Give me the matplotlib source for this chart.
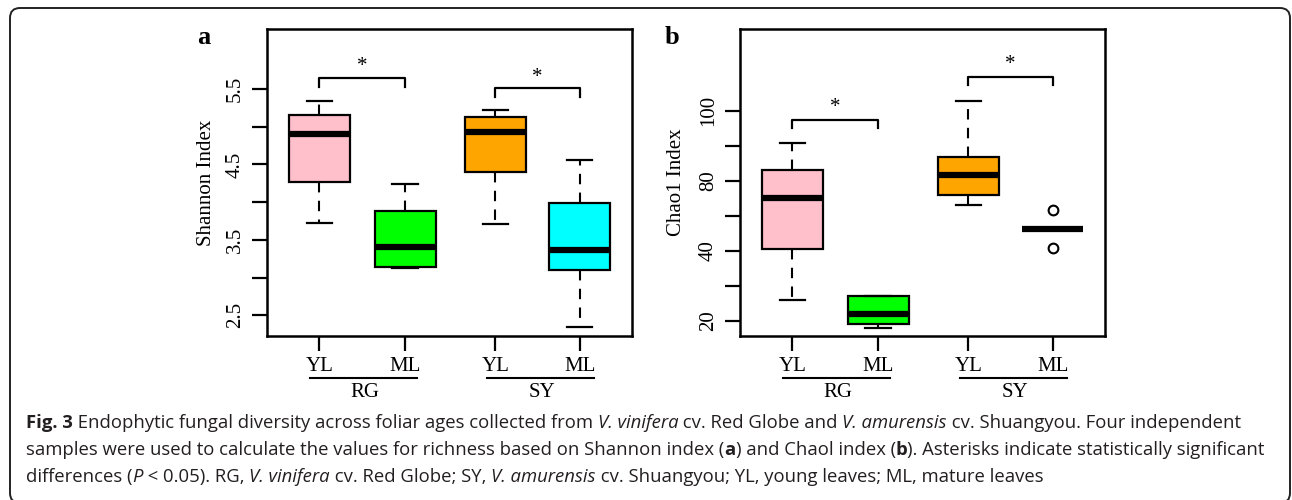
import matplotlib
matplotlib.use('Agg')
import matplotlib.pyplot as plt
from matplotlib.patches import FancyBboxPatch
from matplotlib.transforms import IdentityTransform, blended_transform_factory

# ---- data ----
groups = ['RG', 'SY']
leaf_ages = ['YL', 'ML', 'YL', 'ML']
box_colors = ['#FFC0CB', '#00FF00', '#FFA500', '#00FFFF']
positions = [1, 2, 3.05, 4.03]

# Shannon index boxes (RG-YL, RG-ML, SY-YL, SY-ML)
shannon_whislo = [3.73, 3.13, 3.71, 2.345]
shannon_q1 = [4.27, 3.145, 4.40, 3.105]
shannon_med = [4.90, 3.40, 4.93, 3.36]
shannon_q3 = [5.16, 3.88, 5.13, 3.99]
shannon_whishi = [5.345, 4.245, 5.22, 4.555]
shannon_fliers = [[], [], [], []]
shannon_ticks = [2.5, 3.0, 3.5, 4.0, 4.5, 5.0, 5.5]
shannon_ticklabels = ['2.5', '', '3.5', '', '4.5', '', '5.5']

# Chao1 index boxes
chao_whislo = [25.9, 18.0, 52.9, 46.1]
chao_q1 = [40.4, 18.95, 55.8, 46.1]
chao_med = [54.95, 21.9, 61.7, 46.1]
chao_q3 = [62.9, 26.95, 66.8, 46.1]
chao_whishi = [70.8, 26.95, 82.8, 46.1]
chao_fliers = [[], [], [], [51.7, 40.8]]
chao_ticks = [20, 30, 40, 50, 60, 70, 80]
chao_ticklabels = ['20', '', '40', '', '80', '', '100']

# significance brackets: (left box, right box, bar height, leg end, star height)
shannon_brackets = [(0, 1, 5.64, 5.53, 5.80), (2, 3, 5.51, 5.39, 5.65)]
chao_brackets = [(0, 1, 77.4, 74.95, 80.8), (2, 3, 89.7, 87.3, 93.2)]

caption_lines = [
    [('Fig. 3', 'b'), (' Endophytic fungal diversity across foliar ages collected from ', 'r'),
     ('V. vinifera', 'i'), (' cv. Red Globe and ', 'r'), ('V. amurensis', 'i'),
     (' cv. Shuangyou. Four independent', 'r')],
    [('samples were used to calculate the values for richness based on Shannon index (', 'r'),
     ('a', 'b'), (') and Chaol index (', 'r'), ('b', 'b'),
     ('). Asterisks indicate statistically significant', 'r')],
    [('differences (', 'r'), ('P', 'i'), (' < 0.05). RG, ', 'r'), ('V. vinifera', 'i'),
     (' cv. Red Globe; SY, ', 'r'), ('V. amurensis', 'i'),
     (' cv. Shuangyou; YL, young leaves; ML, mature leaves', 'r')],
]

SERIF = 'Liberation Serif'
plt.rcParams['font.family'] = SERIF

fig = plt.figure(figsize=(12.92, 5.0), dpi=100)
ax_a = fig.add_axes([267 / 1292, 1 - 336 / 500, 365 / 1292, 307 / 500])
ax_b = fig.add_axes([740 / 1292, 1 - 336 / 500, 365 / 1292, 307 / 500])


def draw_panel(ax, whislo, q1, med, q3, whishi, fliers, ylim, ticks, ticklabels,
               ylabel, brackets, label_x):
    stats = []
    for i in range(len(med)):
        stats.append(dict(whislo=whislo[i], q1=q1[i], med=med[i], q3=q3[i],
                          whishi=whishi[i], fliers=fliers[i]))
    bp = ax.bxp(stats, positions=positions, widths=0.71, capwidths=0.30,
                patch_artist=True, manage_ticks=False,
                boxprops=dict(linewidth=1.6, edgecolor='black'),
                whiskerprops=dict(linewidth=1.5, linestyle=(0, (5, 4)), color='black'),
                capprops=dict(linewidth=1.6, color='black'),
                medianprops=dict(linewidth=4.5, color='black', solid_capstyle='butt'),
                flierprops=dict(marker='o', markerfacecolor='white',
                                markeredgecolor='black', markersize=7,
                                markeredgewidth=1.5))
    for patch, c in zip(bp['boxes'], box_colors):
        patch.set_facecolor(c)

    ax.set_xlim(0.39, 4.64)
    ax.set_ylim(*ylim)
    ax.set_xticks(positions)
    ax.set_xticklabels(leaf_ages, fontsize=15)
    ax.set_yticks(ticks)
    ax.set_yticklabels(ticklabels, fontsize=15)
    for lbl in ax.get_yticklabels():
        lbl.set_rotation(90)
        lbl.set_va('center')
    ax.tick_params(axis='both', length=11, width=1.6, color='black')
    ax.tick_params(axis='x', pad=4)
    ax.tick_params(axis='y', pad=5)
    for sp in ax.spines.values():
        sp.set_linewidth(1.8)

    ax.set_ylabel(ylabel, fontsize=15)
    ax.yaxis.label.set_va('center')
    ax.yaxis.set_label_coords(label_x, 0.5)

    # significance brackets
    for i, j, top, leg, star in brackets:
        xs = [positions[i], positions[i], positions[j], positions[j]]
        ax.plot(xs, [leg, top, top, leg], color='black', lw=1.6, clip_on=False)
        ax.text((positions[i] + positions[j]) / 2, star, '*', ha='center',
                va='center', fontsize=15)

    # group underlines and labels below the axis
    trans = blended_transform_factory(ax.transData, ax.transAxes)
    spans = [(0.89, 2.135), (2.95, 4.20)]
    centers = [1.53, 3.59]
    for g, (x0, x1), xc in zip(groups, spans, centers):
        ax.plot([x0, x1], [-0.137, -0.137], color='black', lw=1.5,
                transform=trans, clip_on=False)
        ax.text(xc, -0.185, g, transform=trans, ha='center', va='center',
                fontsize=15)


draw_panel(ax_a, shannon_whislo, shannon_q1, shannon_med, shannon_q3, shannon_whishi,
           shannon_fliers, (2.226, 6.295), shannon_ticks, shannon_ticklabels,
           'Shannon Index', shannon_brackets, -0.165)
draw_panel(ax_b, chao_whislo, chao_q1, chao_med, chao_q3, chao_whishi,
           chao_fliers, (15.6, 103.3), chao_ticks, chao_ticklabels,
           'Chao1 Index', chao_brackets, -0.173)

fig.text(204 / 1292, 1 - 37 / 500, 'a', fontsize=19, fontweight='bold',
         ha='center', va='center')
fig.text(672 / 1292, 1 - 37 / 500, 'b', fontsize=19, fontweight='bold',
         ha='center', va='center')

# rounded frame around the figure
frame = FancyBboxPatch((10, -3), 1280, 495, boxstyle='round,pad=0,rounding_size=10',
                       transform=IdentityTransform(), fill=False,
                       edgecolor='#222222', linewidth=1.4)
fig.add_artist(frame)

# caption, drawn run by run so bold / italic parts sit in line
renderer = fig.canvas.get_renderer()
CAP_FONT = 'Open Sans'
CAP_COLOR = '#231f20'


def run_kwargs(style, size):
    kw = dict(fontsize=size, family=CAP_FONT, color=CAP_COLOR)
    if style == 'b':
        kw['fontweight'] = 'bold'
    elif style == 'i':
        kw['fontstyle'] = 'italic'
    return kw


def run_width(text, style, size):
    t = fig.text(0, 0, text + '|', transform=IdentityTransform(), **run_kwargs(style, size))
    w1 = t.get_window_extent(renderer).width
    t.set_text('|')
    w2 = t.get_window_extent(renderer).width
    t.remove()
    return w1 - w2


def line_width(runs, size):
    return sum(run_width(txt, st, size) for txt, st in runs)


# fit the widest caption line to the width it has in the reference
base = 10.0
cap_size = base * (1236 / line_width(caption_lines[1], base))

baselines = [72, 45, 18]
for runs, yb in zip(caption_lines, baselines):
    x = 26
    for txt, st in runs:
        fig.text(x, yb, txt, transform=IdentityTransform(), ha='left',
                 va='baseline', **run_kwargs(st, cap_size))
        x += run_width(txt, st, cap_size)

fig.savefig('out.png', dpi=100)
